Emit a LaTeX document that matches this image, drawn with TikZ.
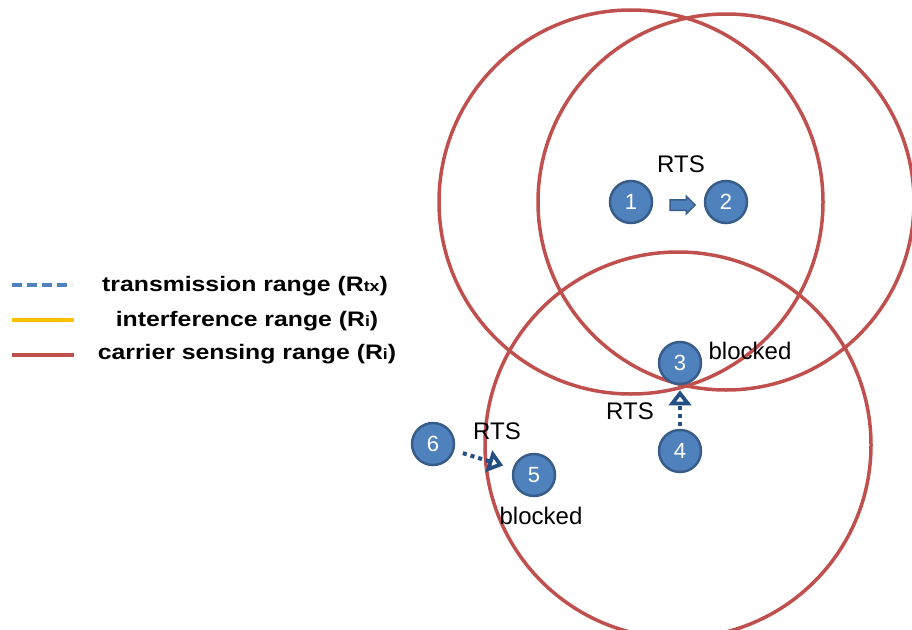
\documentclass[tikz,border=0pt]{standalone}
\usepackage{fontspec}
\setmainfont{Liberation Sans}
\newfontfamily\legfont[FakeStretch=1.18]{Liberation Sans}
\usetikzlibrary{arrows.meta,shapes.arrows,backgrounds}

\definecolor{nodoblu}{HTML}{4F81BD}
\definecolor{bordoblu}{HTML}{385D8A}
\definecolor{rosso}{HTML}{C0504D}
\definecolor{giallo}{HTML}{FFC000}
\definecolor{scuro}{HTML}{234F82}

\tikzset{
  stazione/.style={circle, draw=bordoblu, line width=2.5pt, fill=nodoblu, minimum size=42pt, inner sep=0pt, text=white, font=\fontsize{22}{22}\selectfont},
  raggio/.style={draw=rosso, line width=3.5pt},
  etichetta/.style={inner sep=0pt, font=\fontsize{24}{24}\selectfont},
  rts/.style={draw=scuro, line width=4pt, dash pattern=on 4pt off 4pt, -{Triangle[open,length=15pt,width=22pt,line width=4pt]}},
  voce/.style={inner sep=0pt, font=\legfont\bfseries\fontsize{21}{21}\selectfont},
}
\newcommand{\piccolo}[1]{{\fontsize{15}{15}\selectfont #1}}

\begin{document}
\begin{tikzpicture}[x=1pt,y=-1pt]
    \useasboundingbox (0,0) rectangle (912,629);

    % Nodi
    \node[stazione] (n1) at (631,202) {1};
    \node[stazione] (n2) at (726,202) {2};
    \node[stazione] (n3) at (680,363) {3};
    \node[stazione] (n4) at (680,451) {4};
    \node[stazione] (n5) at (534,475) {5};
    \node[stazione] (n6) at (433,444) {6};

    % Raggi
    \begin{pgfonlayer}{background}
      \draw[raggio] (n1) circle (192pt);
      \draw[raggio] (n2) circle (188pt);
      \draw[raggio] (n4) ++(-2,-6) circle (193pt);
    \end{pgfonlayer}

    % Frecce
    \node[single arrow, draw=bordoblu, fill=nodoblu, line width=1.5pt, minimum height=25pt, minimum width=16pt, single arrow head extend=3.5pt, inner xsep=0pt, inner ysep=4.5pt] (freccia) at (680,205) {};
    \draw[rts, shorten <=3pt, shorten >=5pt] (n4) -- (n3);
    \draw[rts, shorten <=9pt, shorten >=10pt] (n6) -- (n5);

    % Etichette
    \node[etichetta] (rts12) at (681,164) {RTS};
    \node[etichetta] (blocco3) at (750,351) {blocked};
    \node[etichetta] (rts43) at (630,411) {RTS};
    \node[etichetta] (rts65) at (497,431) {RTS};
    \node[etichetta] (blocco5) at (541,516) {blocked};

    % Legenda
    \draw[nodoblu, line width=4pt, dash pattern=on 10pt off 5pt] (12,285) -- (72,285);
    \draw[giallo, line width=4pt] (12,320) -- (74,320);
    \draw[rosso, line width=4pt] (12,355) -- (74,355);
    \node[voce] (trasm) at (245,286) {transmission range (R\piccolo{tx})};
    \node[voce] (interf) at (247,321) {interference range (R\piccolo{i})};
    \node[voce] (carrier) at (247,354) {carrier sensing range (R\piccolo{i})};
\end{tikzpicture}
\end{document}
